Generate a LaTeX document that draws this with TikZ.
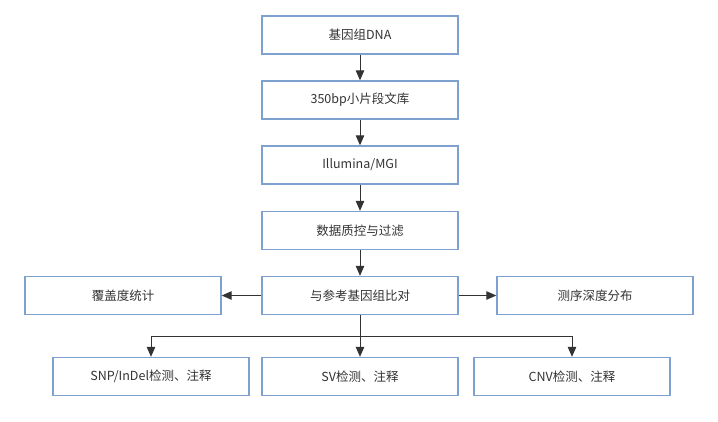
\documentclass[tikz,border=0pt]{standalone}
\usepackage{fontspec}
\setmainfont{Noto Sans CJK SC}
\usetikzlibrary{arrows.meta}
\definecolor{boxline}{HTML}{7EA1CF}
\definecolor{txt}{HTML}{333333}
\begin{document}
\begin{tikzpicture}[x=1pt,y=-1pt,
  proc/.style={draw=boxline,line width=1.4pt,minimum width=196pt,minimum height=38pt,inner sep=0pt,text=txt,font=\fontsize{12.5}{14}\selectfont},
  conn/.style={draw=txt,line width=1pt,-{Triangle[length=10pt,width=8.5pt]}}]
\useasboundingbox (0,0) rectangle (718,421);
\node[proc] (dna) at (360,35) {基因组DNA};
\node[proc] (lib) at (360,100) {350bp小片段文库};
\node[proc] (seq) at (360,165) {Illumina/MGI};
\node[proc] (qc) at (360,230.5) {数据质控与过滤};
\node[proc] (aln) at (360,295.5) {与参考基因组比对};
\node[proc] (cov) at (123,295.5) {覆盖度统计};
\node[proc] (dep) at (595,295.5) {测序深度分布};
\node[proc] (snp) at (151,376.5) {SNP/InDel检测、注释};
\node[proc] (sv) at (360,376.5) {SV检测、注释};
\node[proc] (cnv) at (572,376.5) {CNV检测、注释};
\coordinate (bus) at (360,336);
\draw[conn] (dna) -- (lib);
\draw[conn] (lib) -- (seq);
\draw[conn] (seq) -- (qc);
\draw[conn] (qc) -- (aln);
\draw[conn] (aln) -- (cov);
\draw[conn] (aln) -- (dep);
\draw[conn] (aln) -- (sv);
\draw[conn] (aln.south) |- (bus) -| (snp.north);
\draw[conn] (aln.south) |- (bus) -| (cnv.north);
\end{tikzpicture}
\end{document}
